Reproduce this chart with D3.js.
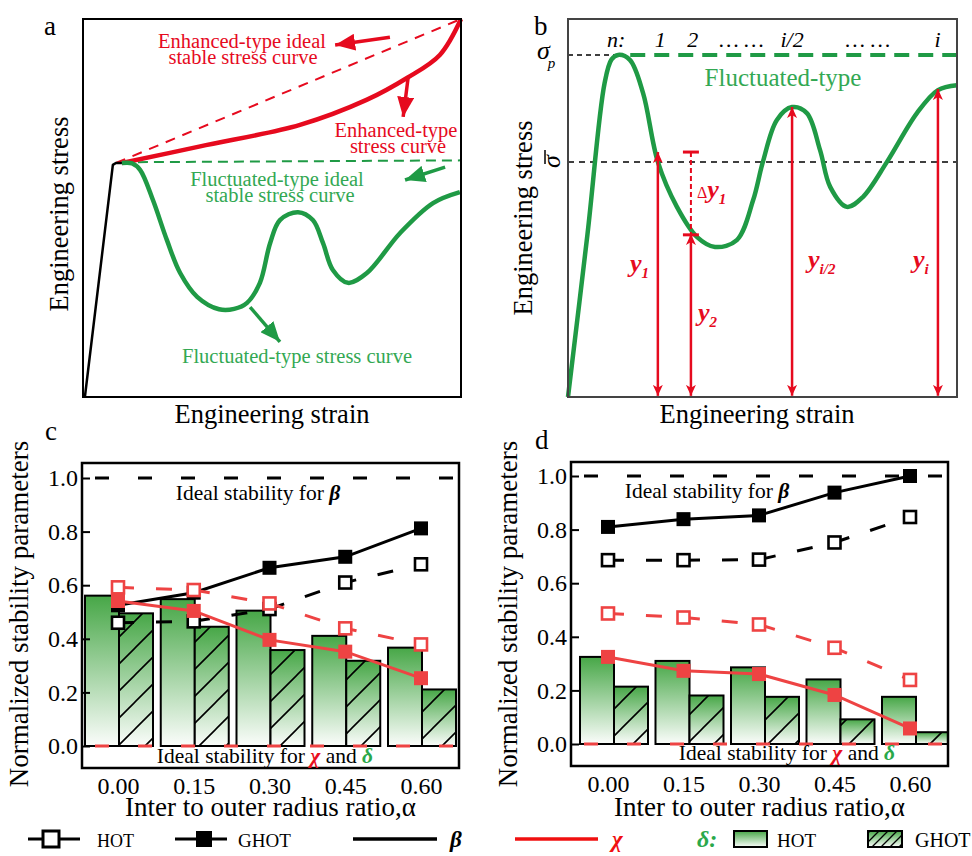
<!DOCTYPE html>
<html><head><meta charset="utf-8">
<script src="https://cdn.jsdelivr.net/npm/d3@7"></script>
<style>
body{margin:0;background:#fff}
svg{display:block;font-family:"Liberation Serif","Times New Roman",serif}
</style>
</head><body>
<svg id="fig" width="972" height="856"></svg>
<script>
// ---------------- DATA ----------------
// Panels c & d: x categories (inner to outer radius ratio)
const alphaRatio = [0, 0.15, 0.30, 0.45, 0.60];
const xTickLabels = ["0.00", "0.15", "0.30", "0.45", "0.60"];
const yTickValues = [0, 0.2, 0.4, 0.6, 0.8, 1.0];
// panel c
const cDeltaHOT  = [0.561, 0.548, 0.505, 0.411, 0.367];
const cDeltaGHOT = [0.495, 0.445, 0.358, 0.318, 0.211];
const cBetaHOT   = [0.460, 0.465, 0.511, 0.610, 0.678];
const cBetaGHOT  = [0.525, 0.572, 0.665, 0.706, 0.812];
const cChiHOT    = [0.592, 0.582, 0.532, 0.439, 0.379];
const cChiGHOT   = [0.541, 0.504, 0.396, 0.352, 0.253];
// panel d
const dDeltaHOT  = [0.325, 0.310, 0.286, 0.241, 0.176];
const dDeltaGHOT = [0.214, 0.181, 0.176, 0.092, 0.044];
const dBetaHOT   = [0.686, 0.686, 0.688, 0.752, 0.847];
const dBetaGHOT  = [0.810, 0.839, 0.853, 0.938, 1.000];
const dChiHOT    = [0.487, 0.472, 0.446, 0.359, 0.239];
const dChiGHOT   = [0.325, 0.273, 0.261, 0.183, 0.058];
const idealBeta = 1.0, idealChiDelta = 0.0;

// Panel a: schematic curves (strain, stress) in 0-100 units
const aElastic     = [[0.5,0],[7.9,61.4],[8.7,61.9],[10.3,61.9]];
const aEnhIdeal    = [[8.7,61.9],[100,100]];
const aEnhCurve    = [[10.3,61.9],[31,66.3],[57.4,72],[75,78.6],[85.7,84.4],[94.4,90.5],[100,100]];
const aFluIdeal    = [[10.3,62.1],[100,62.6]];
const aFluCurve    = [[10.3,61.9],[13,61.8],[15.1,60.1],[18.5,52.1],[22.2,41.5],[25.7,32.8],[30.2,26.5],[36,23.2],[40,23.3],[43.4,24.9],[46.8,30.2],[49.5,40.7],[52.1,46.8],[56.9,48.9],[60.8,46.8],[63.5,40.7],[66.1,33.6],[70.1,30.2],[75.1,32.8],[83.9,43.4],[92.6,51.3],[99.7,54.2]];
const aArrowsRed   = [[[81.2,95.2],[66.7,93.1]],[[86,84.4],[84.7,74.1]]];
const aArrowsGreen = [[[95.8,60.8],[85.2,57.4]],[[44.2,23.8],[52.1,14.6]]];

// Panel b: fluctuated-type curve
const bCurve = [[0,0],[5,43],[9.4,83],[11.2,89.3],[12.9,90.5],[15.9,89.2],[19.3,80.4],[23.1,62.2],[28.0,50.3],[33.2,42.3],[37.8,39.7],[43.4,41.5],[47.6,52.1],[50.1,62.2],[53.7,73.3],[57.6,76.7],[61.4,75.1],[64.8,65.3],[67.4,55.6],[71.7,50.3],[75.8,52.9],[82.0,62.2],[89.7,75.1],[95.1,81.2],[100,82.5]];
const bSigmaP = 90.5, bSigmaMean = 62.2;
const bArrowX   = [23.1, 31.6, 57.6, 95.1];
const bArrowTop = [64.8, 43.1, 76.7, 81.5];
const bDelta = {x: 31.6, top: 64.8, bottom: 42.9};
const bTopLabels = ["n:", "1", "2", "… …", "i/2", "… …", "i"];
const bTopLabelX = [12.4, 23.7, 32.1, 44.6, 57.6, 77.1, 95.0];

// ---------------- DRAW ----------------
const svg = d3.select("#fig");
const defs = svg.append("defs");
const RED_AB = "#e60a1e", GREEN_AB = "#1f9a45", GREEN_TXT = "#33a853";
const RED = "#ee4343", GREEN_D = "#2aa84a";

// gradient & hatch
const grad = defs.append("linearGradient").attr("id","gGrad").attr("x1",0).attr("y1",0).attr("x2",0).attr("y2",1);
grad.append("stop").attr("offset","0%").attr("stop-color","#47a747");
grad.append("stop").attr("offset","100%").attr("stop-color","#fbfdfb");
function hatch(id, s, w){
  defs.append("pattern").attr("id",id).attr("patternUnits","userSpaceOnUse").attr("width",s).attr("height",s)
    .append("path").attr("d",`M0,${s} L${s},0 M${-s/4},${s/4} L${s/4},${-s/4} M${s*0.75},${s*1.25} L${s*1.25},${s*0.75}`)
    .attr("stroke","#000").attr("stroke-width",w);
}
hatch("hatch",27,1.6);
hatch("hatchS",9,1.3);

function arrowMarker(id, color, L, W, barb){
  defs.append("marker").attr("id",id).attr("viewBox",`0 0 ${L} ${W}`).attr("refX",L).attr("refY",W/2)
    .attr("markerWidth",L).attr("markerHeight",W).attr("markerUnits","userSpaceOnUse").attr("orient","auto-start-reverse")
    .append("path").attr("d",`M0,0 L${L},${W/2} L0,${W} L${barb},${W/2} Z`).attr("fill",color);
}
arrowMarker("ahRed", RED_AB, 20, 17, 0);
arrowMarker("ahGreen", GREEN_AB, 20, 17, 0);
arrowMarker("ahSmall", RED_AB, 11, 10, 3);

// ===== Panel a =====
{
  const x = d3.scaleLinear().domain([0,100]).range([83,461]);
  const y = d3.scaleLinear().domain([0,100]).range([397,19]);
  const line = d3.line().x(d=>x(d[0])).y(d=>y(d[1]));
  const g = svg.append("g");
  g.append("path").attr("d",line(aEnhIdeal)).attr("fill","none").attr("stroke",RED_AB).attr("stroke-width",2).attr("stroke-dasharray","10,8");
  g.append("path").attr("d",line(aFluIdeal)).attr("fill","none").attr("stroke",GREEN_AB).attr("stroke-width",2).attr("stroke-dasharray","10,6");
  g.append("path").attr("d",line.curve(d3.curveCatmullRom.alpha(0.5))(aEnhCurve)).attr("fill","none").attr("stroke",RED_AB).attr("stroke-width",4.5);
  g.append("path").attr("d",line.curve(d3.curveCatmullRom.alpha(0.5))(aFluCurve)).attr("fill","none").attr("stroke",GREEN_AB).attr("stroke-width",4.5);
  g.append("path").attr("d",d3.line().x(d=>x(d[0])).y(d=>y(d[1]))(aElastic)).attr("fill","none").attr("stroke","#000").attr("stroke-width",2.5).attr("stroke-linejoin","round");
  aArrowsRed.forEach(a=>g.append("line").attr("x1",x(a[0][0])).attr("y1",y(a[0][1])).attr("x2",x(a[1][0])).attr("y2",y(a[1][1]))
     .attr("stroke",RED_AB).attr("stroke-width",3.5).attr("marker-end","url(#ahRed)"));
  aArrowsGreen.forEach(a=>g.append("line").attr("x1",x(a[0][0])).attr("y1",y(a[0][1])).attr("x2",x(a[1][0])).attr("y2",y(a[1][1]))
     .attr("stroke",GREEN_AB).attr("stroke-width",3.5).attr("marker-end","url(#ahGreen)"));
  g.append("rect").attr("x",83).attr("y",19).attr("width",378).attr("height",378).attr("fill","none").attr("stroke","#000").attr("stroke-width",2);
  const t2 = (l1,l2,cx1,cx2,by,col,fs)=>{
    const tx = g.append("text").attr("text-anchor","middle").attr("fill",col).attr("font-size",fs);
    tx.append("tspan").attr("x",cx1).attr("y",by).text(l1);
    tx.append("tspan").attr("x",cx2).attr("y",by+16).text(l2);
  };
  t2("Enhanced-type ideal","stable stress curve",242,243,48,RED_AB,20.5);
  t2("Enhanced-type","stress curve",396,398,137,RED_AB,20.5);
  t2("Fluctuated-type ideal","stable stress curve",277,280,186,GREEN_TXT,20.5);
  g.append("text").attr("x",297).attr("y",363).attr("text-anchor","middle").attr("fill",GREEN_TXT).attr("font-size",20.5).text("Fluctuated-type stress curve");
  g.append("text").attr("x",272).attr("y",423).attr("text-anchor","middle").attr("font-size",26.5).text("Engineering strain");
  g.append("text").attr("transform","translate(68,214) rotate(-90)").attr("text-anchor","middle").attr("font-size",26.5).text("Engineering stress");
  g.append("text").attr("x",44).attr("y",35).attr("font-size",27).text("a");
}

// ===== Panel b =====
{
  const x = d3.scaleLinear().domain([0,100]).range([568,957]);
  const y = d3.scaleLinear().domain([0,100]).range([397,19]);
  const g = svg.append("g");
  g.append("line").attr("x1",x(0)).attr("x2",x(14)).attr("y1",y(bSigmaP)).attr("y2",y(bSigmaP)).attr("stroke","#000").attr("stroke-width",1.5).attr("stroke-dasharray","5,4");
  g.append("line").attr("x1",x(16)).attr("x2",x(100)).attr("y1",y(bSigmaP)).attr("y2",y(bSigmaP)).attr("stroke",GREEN_AB).attr("stroke-width",4).attr("stroke-dasharray","15,9");
  g.append("line").attr("x1",x(0)).attr("x2",x(100)).attr("y1",y(bSigmaMean)).attr("y2",y(bSigmaMean)).attr("stroke","#000").attr("stroke-width",1.5).attr("stroke-dasharray","6,5");
  g.append("path").attr("d",d3.line().x(d=>x(d[0])).y(d=>y(d[1])).curve(d3.curveCatmullRom.alpha(0.5))(bCurve)).attr("fill","none").attr("stroke",GREEN_AB).attr("stroke-width",4.5);
  bArrowX.forEach((ax,i)=>g.append("line").attr("x1",x(ax)).attr("x2",x(ax)).attr("y1",y(bArrowTop[i])).attr("y2",y(0.3))
     .attr("stroke",RED_AB).attr("stroke-width",2.5).attr("marker-start","url(#ahSmall)").attr("marker-end","url(#ahSmall)"));
  g.append("line").attr("x1",x(bDelta.x)).attr("x2",x(bDelta.x)).attr("y1",y(bDelta.top)).attr("y2",y(bDelta.bottom)).attr("stroke",RED_AB).attr("stroke-width",2).attr("stroke-dasharray","5,3");
  [bDelta.top,bDelta.bottom].forEach(v=>g.append("line").attr("x1",x(bDelta.x)-8).attr("x2",x(bDelta.x)+8).attr("y1",y(v)).attr("y2",y(v)).attr("stroke",RED_AB).attr("stroke-width",3));
  g.append("rect").attr("x",568).attr("y",19).attr("width",389).attr("height",378).attr("fill","none").attr("stroke","#444").attr("stroke-width",2);
  // top labels
  bTopLabels.forEach((s,i)=>g.append("text").attr("x",x(bTopLabelX[i])).attr("y",47).attr("text-anchor","middle").attr("font-style","italic").attr("font-size",22).text(s));
  g.append("text").attr("x",783).attr("y",86).attr("text-anchor","middle").attr("fill",GREEN_TXT).attr("font-size",25).text("Fluctuated-type");
  // sigma labels
  const sp = g.append("text").attr("x",537).attr("y",y(bSigmaP)+4).attr("font-style","italic").attr("font-size",26);
  sp.append("tspan").text("σ"); sp.append("tspan").attr("font-size",15).attr("dy",9).attr("dx",-2).text("p");
  const sm = g.append("g").attr("transform",`translate(560,${y(bSigmaMean)+6}) rotate(-90)`);
  sm.append("text").attr("x",0).attr("y",0).attr("font-style","italic").attr("font-size",26).text("σ");
  sm.append("line").attr("x1",4).attr("x2",18).attr("y1",-15).attr("y2",-15).attr("stroke","#000").attr("stroke-width",1.5);
  // y labels
  const lab = (cx,by,main,sub,pre)=>{
    const tx=g.append("text").attr("x",cx).attr("y",by).attr("fill",RED_AB).attr("font-size",26).attr("font-weight","bold").attr("font-style","italic");
    if(pre) tx.append("tspan").attr("font-style","normal").attr("font-weight","normal").attr("font-size",16).text(pre);
    tx.append("tspan").text(main);
    tx.append("tspan").attr("font-size",15).attr("dy",6).text(sub);
  };
  lab(630,272,"y","1");
  lab(698,321,"y","2");
  lab(697,198,"y","1","Δ");
  lab(808,268,"y","i/2");
  lab(913,268,"y","i");
  g.append("text").attr("x",757).attr("y",423).attr("text-anchor","middle").attr("font-size",26.5).text("Engineering strain");
  g.append("text").attr("transform","translate(532,218) rotate(-90)").attr("text-anchor","middle").attr("font-size",26.5).text("Engineering stress");
  g.append("text").attr("x",534).attr("y",35).attr("font-size",27).text("b");
}

// ===== Panels c & d =====
function barPanel(cfg){
  const x = d3.scaleLinear().domain([0,0.6]).range(cfg.xr);
  const y = d3.scaleLinear().domain([0,1]).range(cfg.yr);
  const g = svg.append("g");
  const f = cfg.frame;
  const clipId = "clip"+cfg.label;
  defs.append("clipPath").attr("id",clipId).append("rect").attr("x",f[0]).attr("y",f[1]).attr("width",f[2]-f[0]).attr("height",f[3]-f[1]);
  const pg = g.append("g").attr("clip-path",`url(#${clipId})`);
  const w = cfg.barW, off = cfg.barOff;
  // HOT bars
  pg.selectAll(".hot").data(alphaRatio).join("rect")
    .attr("x",d=>x(d)+off-w).attr("width",w).attr("y",(d,i)=>y(cfg.deltaHOT[i])).attr("height",(d,i)=>y(0)-y(cfg.deltaHOT[i]))
    .attr("fill","url(#gGrad)").attr("stroke","#000").attr("stroke-width",2);
  // GHOT bars
  pg.selectAll(".ghot").data(alphaRatio).join("rect")
    .attr("x",d=>x(d)+off).attr("width",w).attr("y",(d,i)=>y(cfg.deltaGHOT[i])).attr("height",(d,i)=>y(0)-y(cfg.deltaGHOT[i]))
    .attr("fill","url(#gGrad)");
  pg.selectAll(".ghoth").data(alphaRatio).join("rect")
    .attr("x",d=>x(d)+off).attr("width",w).attr("y",(d,i)=>y(cfg.deltaGHOT[i])).attr("height",(d,i)=>y(0)-y(cfg.deltaGHOT[i]))
    .attr("fill","url(#hatch)").attr("stroke","#000").attr("stroke-width",2);
  // ideal lines
  pg.append("line").attr("x1",f[0]+13).attr("x2",f[2]).attr("y1",y(idealBeta)).attr("y2",y(idealBeta)).attr("stroke","#000").attr("stroke-width",3).attr("stroke-dasharray","14,29");
  pg.append("line").attr("x1",f[0]+13).attr("x2",f[2]).attr("y1",y(idealChiDelta)).attr("y2",y(idealChiDelta)).attr("stroke",RED).attr("stroke-width",3).attr("stroke-dasharray","14,29");
  const line = d3.line().x((d,i)=>x(alphaRatio[i])).y(d=>y(d));
  function series(vals,color,open){
    pg.append("path").attr("d",line(vals)).attr("fill","none").attr("stroke",color).attr("stroke-width",3)
      .attr("stroke-dasharray",open?"16,22":null);
    const s = open?12:14;
    pg.selectAll(null).data(vals).join("rect").attr("x",(d,i)=>x(alphaRatio[i])-s/2).attr("y",d=>y(d)-s/2).attr("width",s).attr("height",s)
      .attr("fill",open?"#fff":color).attr("stroke",color).attr("stroke-width",open?2.6:0);
  }
  series(cfg.betaHOT,"#000",true);
  series(cfg.betaGHOT,"#000",false);
  series(cfg.chiHOT,RED,true);
  series(cfg.chiGHOT,RED,false);
  // frame
  g.append("rect").attr("x",f[0]).attr("y",f[1]).attr("width",f[2]-f[0]).attr("height",f[3]-f[1]).attr("fill","none").attr("stroke","#000").attr("stroke-width",2.5);
  // axes
  const ya = g.append("g").attr("transform",`translate(${f[0]},0)`)
    .call(d3.axisLeft(y).tickValues(yTickValues).tickFormat(d3.format(".1f")).tickSizeInner(-8).tickSizeOuter(0).tickPadding(4));
  ya.select(".domain").remove();
  ya.selectAll("line").attr("stroke-width",2);
  ya.selectAll("text").attr("font-size",24).attr("font-family","Liberation Serif");
  const xa = g.append("g").attr("transform",`translate(0,${f[3]})`)
    .call(d3.axisBottom(x).tickValues(alphaRatio).tickFormat((d,i)=>xTickLabels[i]).tickSize(0).tickPadding(9));
  xa.select(".domain").remove();
  xa.selectAll("text").attr("font-size",24).attr("font-family","Liberation Serif");
  // texts
  const t1 = g.append("text").attr("x",cfg.tBeta[0]).attr("y",cfg.tBeta[1]).attr("text-anchor","middle").attr("font-size",21.5);
  t1.append("tspan").text("Ideal stability for ");
  t1.append("tspan").attr("font-weight","bold").attr("font-style","italic").text("β");
  const t2 = g.append("text").attr("x",cfg.tChi[0]).attr("y",cfg.tChi[1]).attr("text-anchor","middle").attr("font-size",21.5);
  t2.append("tspan").text("Ideal stability for ");
  t2.append("tspan").attr("font-weight","bold").attr("font-style","italic").attr("fill","#e8101e").text("χ");
  t2.append("tspan").text(" and ");
  t2.append("tspan").attr("font-weight","bold").attr("font-style","italic").attr("fill",GREEN_D).text("δ");
  g.append("text").attr("x",(f[0]+f[2])/2+cfg.xtDx).attr("y",816).attr("text-anchor","middle").attr("font-size",27).text("Inter to outer radius ratio,α");
  g.append("text").attr("transform",`translate(${cfg.ytX},614) rotate(-90)`).attr("text-anchor","middle").attr("font-size",27).text("Normalized stability parameters");
  g.append("text").attr("x",cfg.lab[0]).attr("y",cfg.lab[1]).attr("font-size",27).text(cfg.label);
}
barPanel({label:"c",xr:[118,421],yr:[746,478],frame:[82,463,459,768],barW:34,barOff:1,
  deltaHOT:cDeltaHOT,deltaGHOT:cDeltaGHOT,betaHOT:cBetaHOT,betaGHOT:cBetaGHOT,chiHOT:cChiHOT,chiGHOT:cChiGHOT,
  tBeta:[258,500],tChi:[265,763],xtDx:0,ytX:28,lab:[45,440]});
barPanel({label:"d",xr:[608,910],yr:[744,476],frame:[571,462,948,766],barW:34,barOff:6,
  deltaHOT:dDeltaHOT,deltaGHOT:dDeltaGHOT,betaHOT:dBetaHOT,betaGHOT:dBetaGHOT,chiHOT:dChiHOT,chiGHOT:dChiGHOT,
  tBeta:[707,498],tChi:[787,760],xtDx:0,ytX:517,lab:[535,449]});

// ===== Legend =====
{
  const g = svg.append("g");
  const ly = 839, tb = 847;
  g.append("line").attr("x1",28).attr("x2",80).attr("y1",ly).attr("y2",ly).attr("stroke","#000").attr("stroke-width",3);
  g.append("rect").attr("x",43).attr("y",ly-8).attr("width",16).attr("height",16).attr("fill","#fff").attr("stroke","#000").attr("stroke-width",3);
  g.append("text").attr("x",97).attr("y",tb).attr("font-size",18).text("HOT");
  g.append("line").attr("x1",175).attr("x2",227).attr("y1",ly).attr("y2",ly).attr("stroke","#000").attr("stroke-width",3);
  g.append("rect").attr("x",196).attr("y",ly-8).attr("width",16).attr("height",16).attr("fill","#000");
  g.append("text").attr("x",238).attr("y",tb).attr("font-size",19).text("GHOT");
  g.append("line").attr("x1",353).attr("x2",437).attr("y1",ly).attr("y2",ly).attr("stroke","#000").attr("stroke-width",3.5);
  g.append("text").attr("x",450).attr("y",tb).attr("font-size",23).attr("font-weight","bold").attr("font-style","italic").text("β");
  g.append("line").attr("x1",515).attr("x2",598).attr("y1",ly).attr("y2",ly).attr("stroke","#f01010").attr("stroke-width",3.5);
  g.append("text").attr("x",612).attr("y",tb).attr("font-size",23).attr("font-weight","bold").attr("font-style","italic").attr("fill","#f01010").text("χ");
  g.append("text").attr("x",697).attr("y",tb).attr("font-size",24).attr("font-weight","bold").attr("font-style","italic").attr("fill",GREEN_D).text("δ:");
  g.append("rect").attr("x",734).attr("y",ly-8).attr("width",33).attr("height",16).attr("fill","url(#gGrad)").attr("stroke","#000").attr("stroke-width",2);
  g.append("text").attr("x",777).attr("y",tb).attr("font-size",19).text("HOT");
  g.append("rect").attr("x",868).attr("y",ly-8).attr("width",34).attr("height",16).attr("fill","url(#gGrad)");
  g.append("rect").attr("x",868).attr("y",ly-8).attr("width",34).attr("height",16).attr("fill","url(#hatchS)").attr("stroke","#000").attr("stroke-width",2);
  g.append("text").attr("x",915).attr("y",tb).attr("font-size",20).text("GHOT");
}
</script>
</body></html>
